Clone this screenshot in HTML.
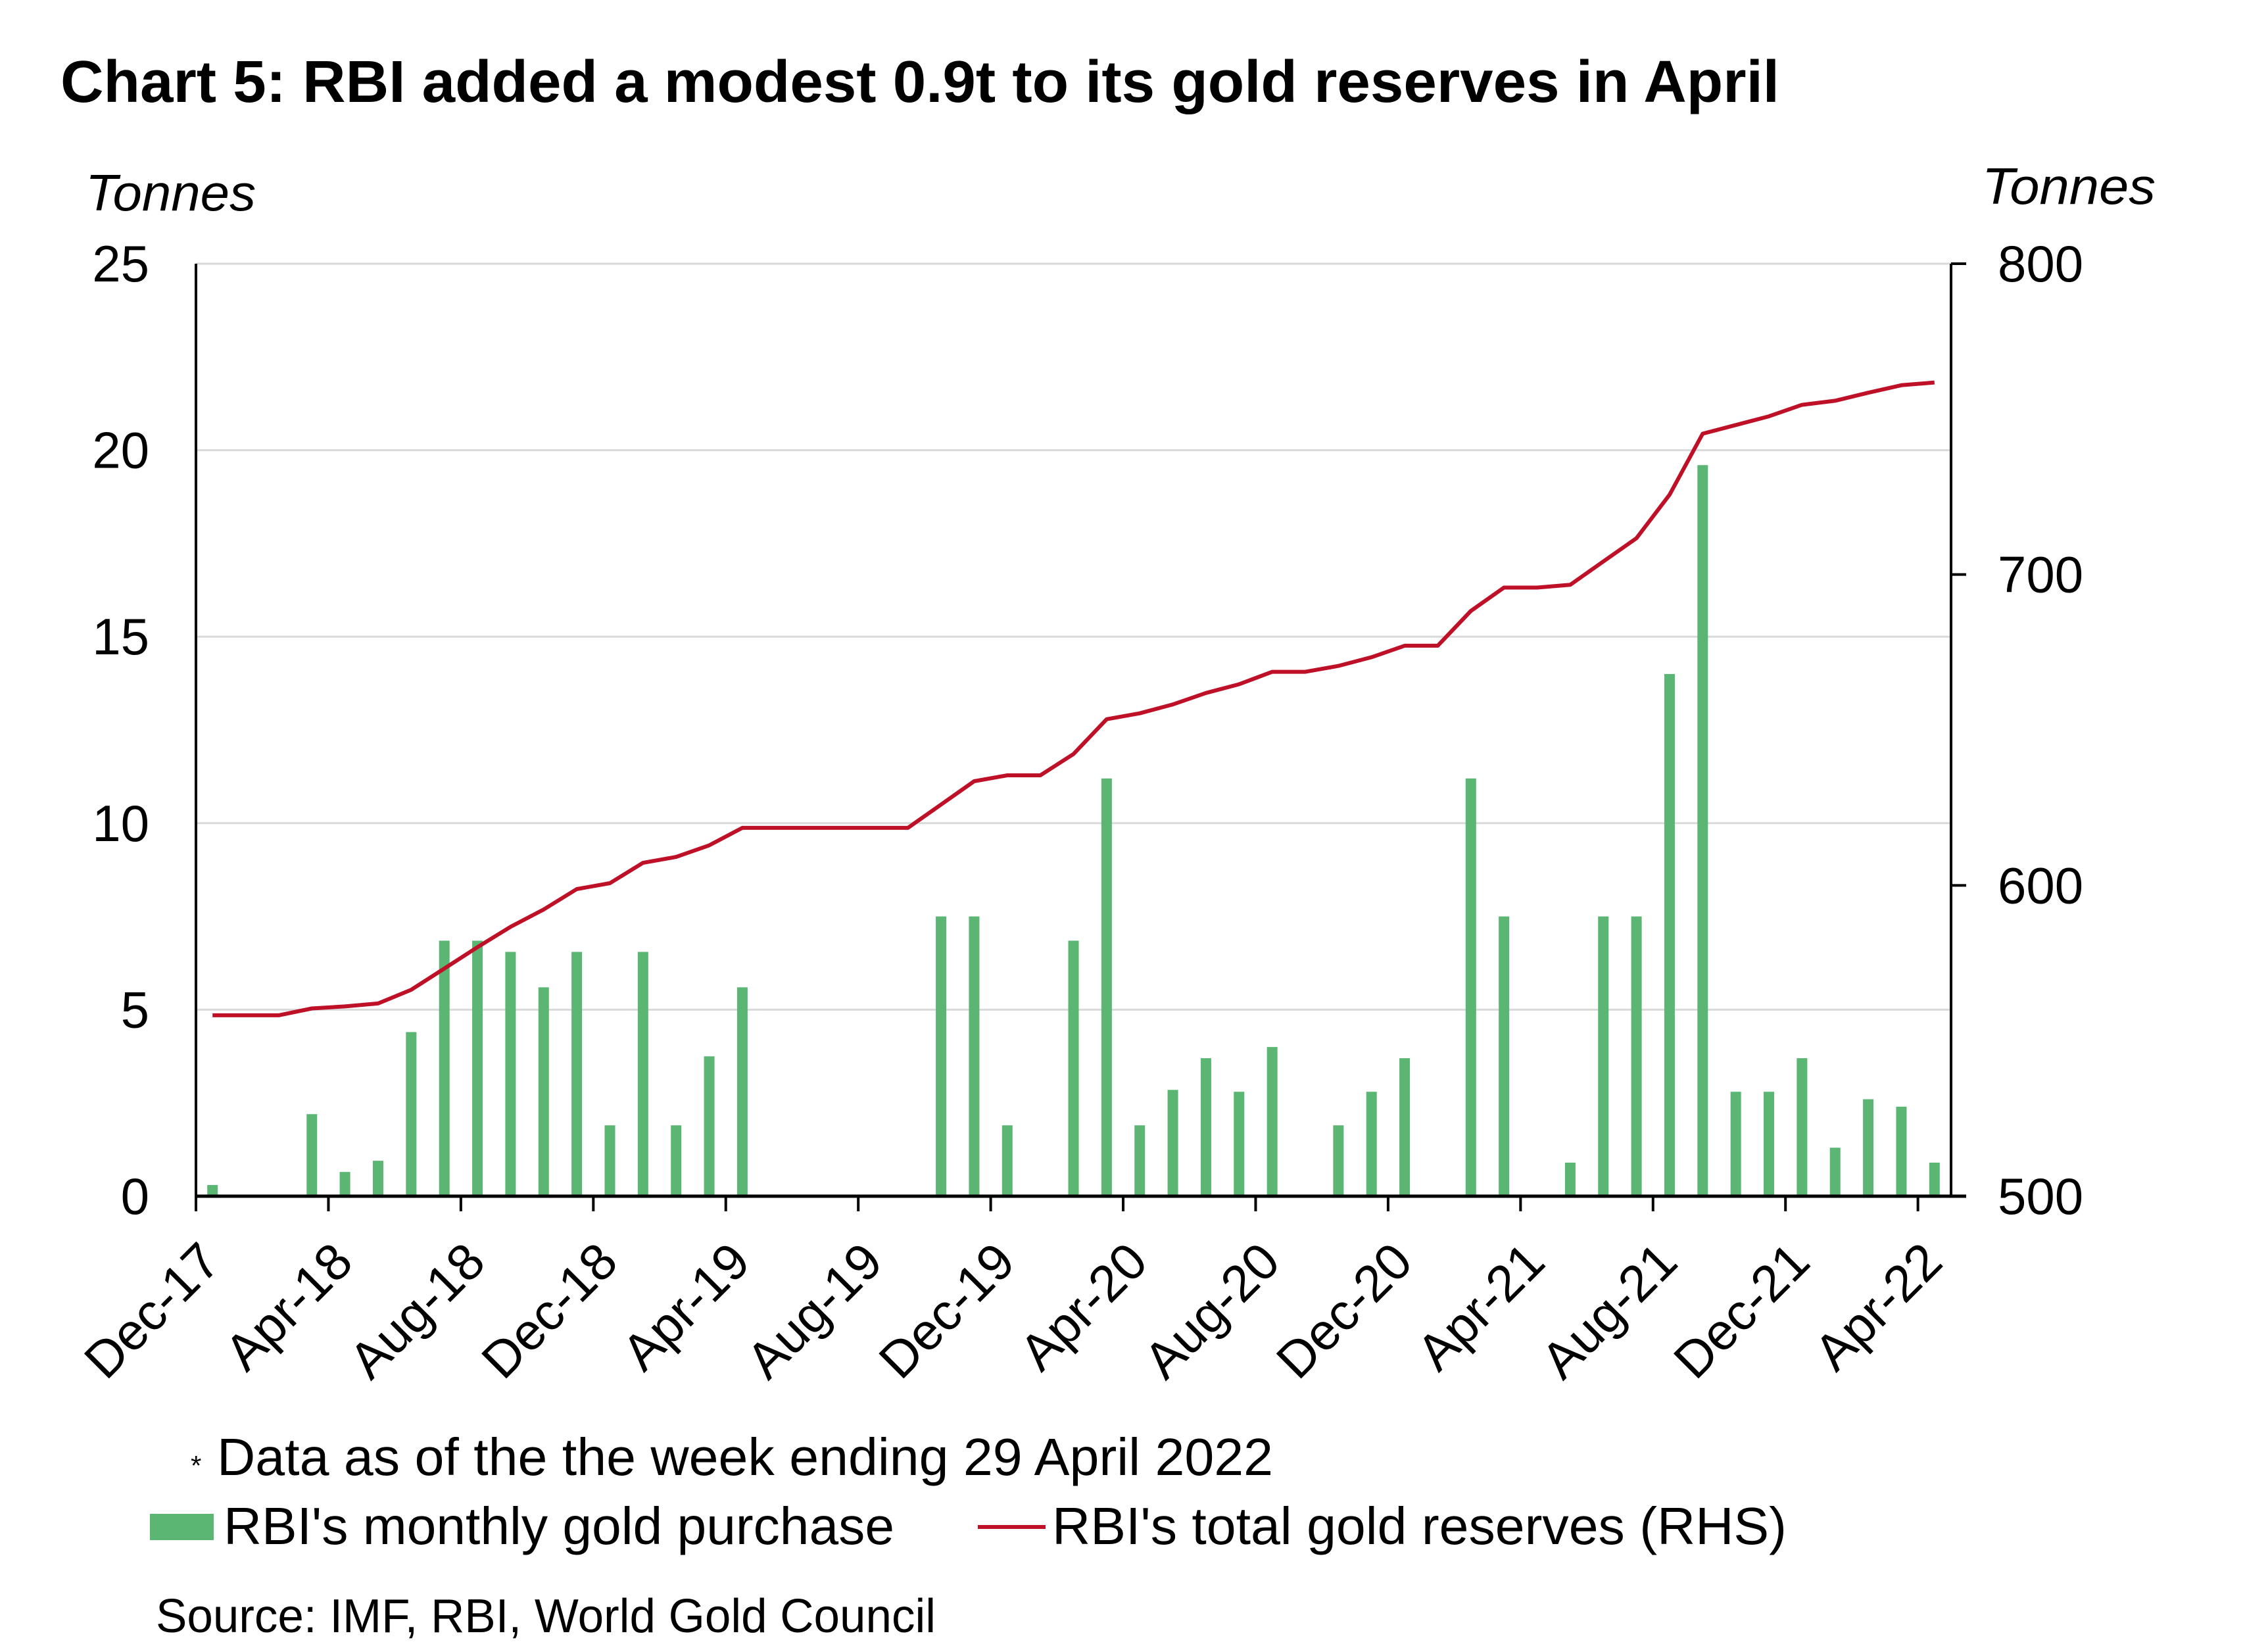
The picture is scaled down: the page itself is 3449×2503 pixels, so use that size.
<!DOCTYPE html>
<html><head><meta charset="utf-8"><style>html,body{margin:0;padding:0;background:#fff}svg{display:block}</style></head>
<body>
<svg id="s" xmlns="http://www.w3.org/2000/svg" width="3449" height="2503" viewBox="0 0 3449 2503" font-family="Liberation Sans, Arial, sans-serif">
<rect width="3449" height="2503" fill="#fff"/>
<text x="92" y="155" font-size="90" font-weight="bold" textLength="2614" lengthAdjust="spacingAndGlyphs">Chart 5: RBI added a modest 0.9t to its gold reserves in April</text>
<text x="130" y="320" font-size="78" font-style="italic" textLength="259" lengthAdjust="spacingAndGlyphs">Tonnes</text>
<text x="3014" y="310" font-size="78" font-style="italic" textLength="264" lengthAdjust="spacingAndGlyphs">Tonnes</text>
<g id="grid"></g>
<g id="bars"></g>
<polyline id="line" fill="none" stroke="#be1128" stroke-width="6" stroke-linejoin="round"/>
<g id="axes"></g>
<g id="labels" font-size="78"></g>
<text x="290" y="2243" font-size="42">*</text>
<text x="330" y="2243" font-size="80" textLength="1606" lengthAdjust="spacingAndGlyphs">Data as of the the week ending 29 April 2022</text>
<rect x="228" y="2302" width="97" height="40" fill="#5cb673"/>
<text x="340" y="2348" font-size="80" textLength="1020" lengthAdjust="spacingAndGlyphs">RBI's monthly gold purchase</text>
<line x1="1487" y1="2322" x2="1590" y2="2322" stroke="#be1128" stroke-width="6"/>
<text x="1600" y="2348" font-size="80" textLength="1117" lengthAdjust="spacingAndGlyphs">RBI's total gold reserves (RHS)</text>
<text x="237" y="2482" font-size="72" textLength="1186" lengthAdjust="spacingAndGlyphs">Source: IMF, RBI, World Gold Council</text>
</svg>
<script>
var L=298,R=2967,T=401,B=1819,H=B-T,n=53,cw=(R-L)/n,NS="http://www.w3.org/2000/svg";
var v=[0.3,0,0,2.2,0.65,0.95,4.4,6.85,6.85,6.55,5.6,6.55,1.9,6.55,1.9,3.75,5.6,0,0,0,0,0,7.5,7.5,1.9,0,6.85,11.2,1.9,2.85,3.7,2.8,4.0,0,1.9,2.8,3.7,0,11.2,7.5,0,0.9,7.5,7.5,14.0,19.6,2.8,2.8,3.7,1.3,2.6,2.4,0.9];
function el(t,a,p){var e=document.createElementNS(NS,t);for(var k in a)e.setAttribute(k,a[k]);document.getElementById(p).appendChild(e);return e;}
for(var g=1;g<=5;g++){var y=B-g*H/5;el('line',{x1:L,x2:R,y1:y,y2:y,stroke:'#d9d9d9','stroke-width':3},'grid');}
var pts=[],c=557.9;
for(var i=0;i<n;i++){var cx=L+(i+0.5)*cw;if(v[i]>0){var h=v[i]/25*H;el('rect',{x:cx-8,y:B-h,width:16,height:h,fill:'#5cb673'},'bars');}
c+=v[i];pts.push(cx.toFixed(1)+','+(B-(c-500)/300*H).toFixed(1));}
document.getElementById('line').setAttribute('points',pts.join(' '));
el('line',{x1:L,x2:L,y1:T,y2:B,stroke:'#000','stroke-width':4},'axes');
el('line',{x1:R,x2:R,y1:T,y2:B,stroke:'#000','stroke-width':4},'axes');
el('line',{x1:L,x2:R+23,y1:B,y2:B,stroke:'#000','stroke-width':5},'axes');
for(var k=0;k<4;k++){var y=T+k*H/3;el('line',{x1:R,x2:R+23,y1:y,y2:y,stroke:'#000','stroke-width':4},'axes');
var t=el('text',{x:3038,y:y+27},'labels');t.textContent=[800,700,600,500][k];}
for(var g=0;g<=5;g++){var y=B-g*H/5;var t=el('text',{x:227,y:y+27,'text-anchor':'end'},'labels');t.textContent=g*5;}
var names=['Dec-17','Apr-18','Aug-18','Dec-18','Apr-19','Aug-19','Dec-19','Apr-20','Aug-20','Dec-20','Apr-21','Aug-21','Dec-21','Apr-22'];
for(var j=0;j<14;j++){var x=L+j*4*cw;el('line',{x1:x,x2:x,y1:B,y2:B+23,stroke:'#000','stroke-width':4},'axes');
var ax=x+41,ay=1923;var t=el('text',{x:ax,y:ay,'text-anchor':'end',transform:'rotate(-45 '+ax+' '+ay+')'},'labels');t.textContent=names[j];}
</script>
</body></html>
